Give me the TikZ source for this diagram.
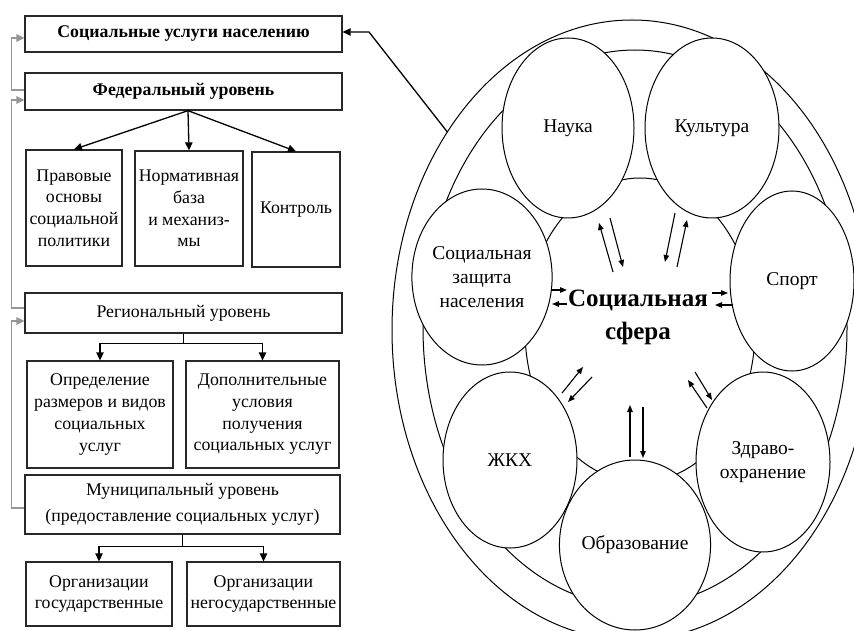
\documentclass[tikz,border=0pt]{standalone}
\usepackage{fontspec}
\setmainfont{Liberation Serif}
\usetikzlibrary{arrows.meta,positioning,shapes.geometric,calc}

\definecolor{boxline}{RGB}{40,40,40}
\definecolor{backline}{RGB}{150,150,150}

\begin{document}
\begin{tikzpicture}[
  x=1pt, y=-1pt,
  >={Triangle[length=8pt,width=7.5pt]},
  box/.style={draw=boxline, line width=1.3pt, align=center, inner sep=1pt, font=\fontsize{17.8}{21.7}\selectfont},
  boldbox/.style={box, minimum width=317pt, font=\bfseries\fontsize{17.8}{21.7}\selectfont},
  level/.style={box, minimum width=317pt},
  arrow/.style={->, line width=1.3pt},
  backarrow/.style={->, backline, line width=1.4pt},
  bigoval/.style={draw, ellipse, line width=1pt, inner sep=0pt, outer sep=0pt},
  sphere/.style={bigoval, fill=white, align=center, font=\fontsize{19.5}{24}\selectfont},
  twoway/.style={-{Triangle[length=7pt,width=5.5pt]}, line width=1.1pt}
]
\useasboundingbox (0,0) rectangle (854,631);
\clip (0,0) rectangle (854,631);

% Levels of social services
\node[boldbox, minimum height=36pt] (uslugi) at (183.5,34) {Социальные услуги населению};
\node[boldbox, minimum height=37pt] (fed) at (183.5,91.5) {Федеральный уровень};

\node[box, minimum width=96pt, minimum height=116pt] (pravo) at (74,208) {Правовые\\основы\\социальной\\политики};
\node[box, minimum width=108pt, minimum height=115pt] (norm) at (189,208.5) {Нормативная\\база\\и механиз-\\мы};
\node[box, minimum width=88pt, minimum height=115pt] (kontrol) at (296,209.5) {Контроль};

\node[level, minimum height=40pt] (reg) at (183.5,313) {Региональный уровень};
\node[box, minimum width=146pt, minimum height=107pt] (opred) at (100,414.5) {Определение\\размеров и видов\\социальных\\услуг};
\node[box, minimum width=153pt, minimum height=107pt] (dop) at (262.5,414.5) {Дополнительные\\условия\\получения\\социальных услуг};

\node[level, minimum width=315pt, minimum height=59pt, font=\fontsize{17.8}{26}\selectfont] (mun) at (182.5,504.5) {Муниципальный уровень\\(предоставление социальных услуг)};
\node[box, minimum width=146pt, minimum height=64pt] (gos) at (99,594) {Организации\\государственные};
\node[box, minimum width=153pt, minimum height=64pt] (negos) at (263.5,594) {Организации\\негосударственные};

% Arrows down the levels
\coordinate (fedout) at ([xshift=4.5pt]fed.south);
\foreach \t in {pravo, norm, kontrol}
  \draw[arrow] (fedout) -- (\t.north);
\foreach \t in {opred, dop}
  \draw[arrow] (reg.south) -- ++(0,10) -| (\t.north);
\foreach \t in {gos, negos}
  \draw[arrow] (mun.south) -- ++(0,12) -| (\t.north);

% Feedback up the levels
\draw[backarrow] ([yshift=1.5pt]fed.west) -- ++(-13,0) |- ([yshift=-4pt]uslugi.west);
\draw[backarrow] ([yshift=5pt]reg.west) -- ++(-13,0) |- ([yshift=-8.5pt]fed.west);
\draw[backarrow] ([yshift=-3.5pt]mun.west) -- ++(-13,0) |- ([yshift=-8pt]reg.west);

% Social sphere
\node[bigoval, minimum width=480pt, minimum height=620pt] (outer) at (632,330) {};
\node[bigoval, minimum width=424pt, minimum height=556pt] (ring) at (635,328) {};
\node[bigoval, minimum width=230pt, minimum height=304pt] (sfera) at (640,330) {};
\node[font=\bfseries\fontsize{25}{33}\selectfont, align=center] (sferatext) at (638,317) {Социальная\\сфера};

\node[sphere, minimum width=132pt, minimum height=180pt] (nauka) at (568,128) {Наука};
\node[sphere, minimum width=134pt, minimum height=180pt] (kultura) at (712,128) {Культура};
\node[sphere, minimum width=136pt, minimum height=176pt] (zashita) at (482,277) {Социальная\\защита\\населения};
\node[sphere, minimum width=124pt, minimum height=180pt] (sport) at (792,281) {Спорт};
\node[sphere, minimum width=134pt, minimum height=176pt] (zhkh) at (510,460) {ЖКХ};
\node[sphere, minimum width=136pt, minimum height=170pt] (obraz) at (635,545) {Образование};
\node[sphere, minimum width=134pt, minimum height=180pt] (zdrav) at (763,462) {Здраво-\\охранение};

% Two-way links with the centre
\foreach \ax/\ay/\bx/\by in {-27/-58/-41/-107, -30/-112/-17/-63,
    35/-117/25/-68, 37/-63/47/-110,
    -88/-40/-73/-40, -73/-26/-88/-26,
    72/-37/88/-37, 93/-25/75/-25,
    -78/63/-57/37, -48/47/-72/72,
    -10/127/-10/75, 3/77/3/128,
    67/78/48/50, 55/42/72/70}
  \draw[twoway] ([shift={(\ax,\ay)}]sfera.center) -- ([shift={(\bx,\by)}]sfera.center);

% Link to the services
\coordinate (kink) at (369,32);
\draw[arrow] (outer.133) -- (kink) -- ([yshift=2pt]uslugi.east);

\end{tikzpicture}
\end{document}
